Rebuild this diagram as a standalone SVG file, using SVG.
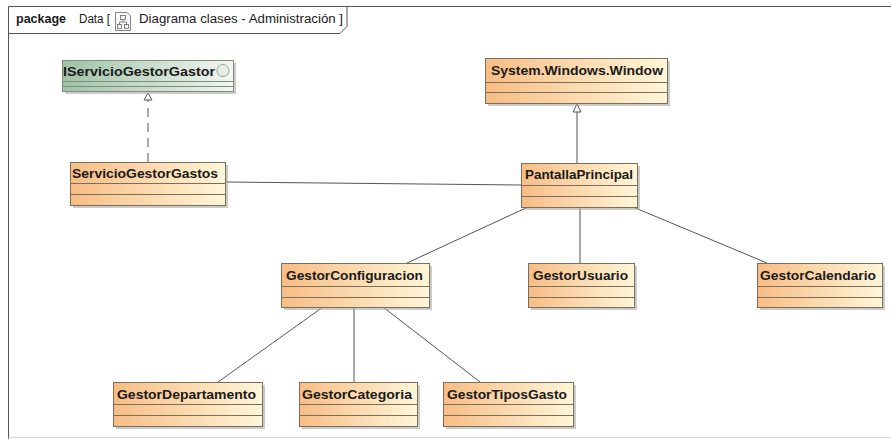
<svg xmlns="http://www.w3.org/2000/svg" width="891" height="439" viewBox="0 0 891 439">
<defs>
<linearGradient id="cls" x1="0" y1="0" x2="1" y2="0">
<stop offset="0" stop-color="#f8bd85"/>
<stop offset="1" stop-color="#fff6d8"/>
</linearGradient>
<linearGradient id="ifc" x1="0" y1="0" x2="1" y2="0">
<stop offset="0" stop-color="#9fc2a6"/>
<stop offset="1" stop-color="#f2f7f1"/>
</linearGradient>
<style>
.box{stroke:#7a6e5c;stroke-width:1;fill:url(#cls)}
.ibox{stroke:#7f8c80;stroke-width:1;fill:url(#ifc)}
.sh{fill:#a9a9a9;opacity:0.6}
.sep{stroke:#7a6e5c;stroke-width:1}
.isep{stroke:#7f8c80;stroke-width:1}
.name{font-family:"Liberation Sans",Arial,sans-serif;font-weight:bold;font-size:13px;fill:#1a1a1a;text-anchor:middle}
.conn{stroke:#555;stroke-width:1;fill:none}
.head{stroke:#555;stroke-width:1;fill:#fff}
.frame{stroke:#555;stroke-width:1;fill:none}
.ttl{font-family:"Liberation Sans",Arial,sans-serif;font-size:12px;fill:#1a1a1a}
</style>
</defs>
<rect x="0" y="0" width="891" height="439" fill="#ffffff"/>
<g id="frame">
<path class="frame" d="M8.5,439 V6.5 H891"/>
<path class="frame" d="M8.5,33.5 H340 L347,26.5 V6.5"/>
<line x1="8.5" y1="437.5" x2="891" y2="437.5" stroke="#dddddd" stroke-width="1"/>
<text class="ttl" x="16" y="23" font-weight="bold" textLength="50" lengthAdjust="spacingAndGlyphs">package</text>
<text class="ttl" x="79" y="23" textLength="31" lengthAdjust="spacingAndGlyphs">Data [</text>
<g id="diagram-icon" stroke="#666" stroke-width="0.8" fill="#f4f4f4">
<path d="M115.5,12.5 H127 L130.5,16 V30.5 H115.5 Z" fill="#f8f8f8"/>
<rect x="120.5" y="15.5" width="5" height="4"/>
<rect x="117.5" y="24.5" width="4" height="4"/>
<rect x="124.5" y="24.5" width="4" height="4"/>
<path d="M123,19.5 V22 M119.5,22 H126.5 M119.5,22 V24.5 M126.5,22 V24.5" fill="none"/>
</g>
<text class="ttl" x="139" y="23" textLength="204" lengthAdjust="spacingAndGlyphs">Diagrama clases - Administración ]</text>
</g>
<g id="connectors">
<path class="conn" d="M148,162 V100" stroke-dasharray="9,6"/>
<path class="head" d="M148,93 L144,100 L152,100 Z"/>
<path class="conn" d="M577,163 V112"/>
<path class="head" d="M577,104 L573,112 L581,112 Z"/>
<path class="conn" d="M225,182 L521,185"/>
<path class="conn" d="M528,207 L407,263"/>
<path class="conn" d="M580,207 V263"/>
<path class="conn" d="M633,207 L767,263"/>
<path class="conn" d="M323,307 L218,382"/>
<path class="conn" d="M354,307 V382"/>
<path class="conn" d="M383,307 L480,382"/>
</g>
<g id="IServicioGestorGastor">
<rect class="sh" x="65" y="63" width="171" height="31"/>
<rect class="ibox" x="62.5" y="60.5" width="171" height="31"/>
<line class="isep" x1="62.5" y1="81.5" x2="233.5" y2="81.5"/>
<line class="isep" x1="62.5" y1="86.5" x2="233.5" y2="86.5"/>
<text class="name" x="139" y="76" textLength="152" lengthAdjust="spacingAndGlyphs">IServicioGestorGastor</text>
<circle cx="223" cy="70.5" r="6" fill="#e9ede8" stroke="#9aa59a" stroke-width="1"/>
</g>
<g id="SystemWindowsWindow">
<rect class="sh" x="488" y="61" width="182" height="45"/>
<rect class="box" x="485.5" y="58.5" width="182" height="45"/>
<line class="sep" x1="485.5" y1="82.5" x2="667.5" y2="82.5"/>
<line class="sep" x1="485.5" y1="92.5" x2="667.5" y2="92.5"/>
<text class="name" x="577" y="75" textLength="172" lengthAdjust="spacingAndGlyphs">System.Windows.Window</text>
</g>
<g id="ServicioGestorGastos">
<rect class="sh" x="73" y="165" width="155" height="43"/>
<rect class="box" x="70.5" y="162.5" width="155" height="43"/>
<line class="sep" x1="70.5" y1="183.5" x2="225.5" y2="183.5"/>
<line class="sep" x1="70.5" y1="194.5" x2="225.5" y2="194.5"/>
<text class="name" x="145" y="178" textLength="146" lengthAdjust="spacingAndGlyphs">ServicioGestorGastos</text>
</g>
<g id="PantallaPrincipal">
<rect class="sh" x="524" y="166" width="116" height="44"/>
<rect class="box" x="521.5" y="163.5" width="116" height="44"/>
<line class="sep" x1="521.5" y1="185.5" x2="637.5" y2="185.5"/>
<line class="sep" x1="521.5" y1="196.5" x2="637.5" y2="196.5"/>
<text class="name" x="579" y="179" textLength="108" lengthAdjust="spacingAndGlyphs">PantallaPrincipal</text>
</g>
<g id="GestorConfiguracion">
<rect class="sh" x="284" y="266" width="148" height="44"/>
<rect class="box" x="281.5" y="263.5" width="148" height="44"/>
<line class="sep" x1="281.5" y1="286.5" x2="429.5" y2="286.5"/>
<line class="sep" x1="281.5" y1="297.5" x2="429.5" y2="297.5"/>
<text class="name" x="354.5" y="279.5" textLength="137" lengthAdjust="spacingAndGlyphs">GestorConfiguracion</text>
</g>
<g id="GestorUsuario">
<rect class="sh" x="531" y="266" width="106" height="44"/>
<rect class="box" x="528.5" y="263.5" width="106" height="44"/>
<line class="sep" x1="528.5" y1="286.5" x2="634.5" y2="286.5"/>
<line class="sep" x1="528.5" y1="297.5" x2="634.5" y2="297.5"/>
<text class="name" x="580.5" y="279.5" textLength="95" lengthAdjust="spacingAndGlyphs">GestorUsuario</text>
</g>
<g id="GestorCalendario">
<rect class="sh" x="760" y="266" width="125" height="44"/>
<rect class="box" x="757.5" y="263.5" width="125" height="44"/>
<line class="sep" x1="757.5" y1="286.5" x2="882.5" y2="286.5"/>
<line class="sep" x1="757.5" y1="297.5" x2="882.5" y2="297.5"/>
<text class="name" x="818" y="279.5" textLength="116" lengthAdjust="spacingAndGlyphs">GestorCalendario</text>
</g>
<g id="GestorDepartamento">
<rect class="sh" x="116" y="385" width="149" height="44"/>
<rect class="box" x="113.5" y="382.5" width="149" height="44"/>
<line class="sep" x1="113.5" y1="404.5" x2="262.5" y2="404.5"/>
<line class="sep" x1="113.5" y1="415.5" x2="262.5" y2="415.5"/>
<text class="name" x="186.5" y="398.5" textLength="139" lengthAdjust="spacingAndGlyphs">GestorDepartamento</text>
</g>
<g id="GestorCategoria">
<rect class="sh" x="302" y="385" width="118" height="44"/>
<rect class="box" x="299.5" y="382.5" width="118" height="44"/>
<line class="sep" x1="299.5" y1="404.5" x2="417.5" y2="404.5"/>
<line class="sep" x1="299.5" y1="415.5" x2="417.5" y2="415.5"/>
<text class="name" x="357" y="398.5" textLength="110" lengthAdjust="spacingAndGlyphs">GestorCategoria</text>
</g>
<g id="GestorTiposGasto">
<rect class="sh" x="446" y="385" width="130" height="44"/>
<rect class="box" x="443.5" y="382.5" width="130" height="44"/>
<line class="sep" x1="443.5" y1="404.5" x2="573.5" y2="404.5"/>
<line class="sep" x1="443.5" y1="415.5" x2="573.5" y2="415.5"/>
<text class="name" x="507" y="398.5" textLength="120" lengthAdjust="spacingAndGlyphs">GestorTiposGasto</text>
</g>
</svg>
